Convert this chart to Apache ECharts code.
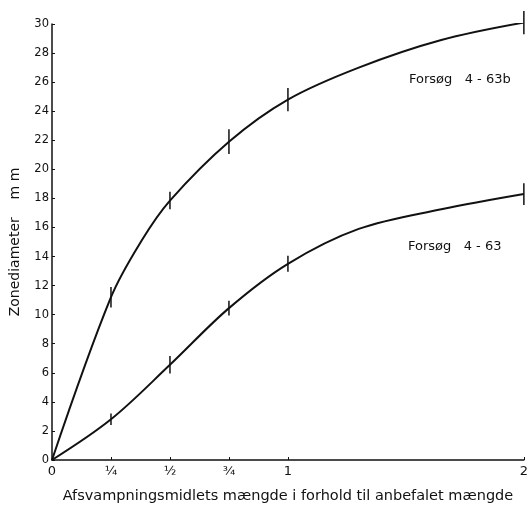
<!DOCTYPE html>
<html><head><meta charset="utf-8">
<script src="https://cdn.jsdelivr.net/npm/echarts@6/dist/echarts.min.js"></script>
<style>html,body{margin:0;padding:0;background:#fff}#c{width:531px;height:509px}</style>
</head><body><div id="c"></div>
<script>
// x positions (fraction of recommended amount)
const xTickValues = [0, 0.25, 0.5, 0.75, 1, 2];
const xTickLabels = ['0', '¼', '½', '¾', '1', '2'];
// Forsøg 4-63b (upper curve)
const upperX = [0, 0.25, 0.38, 0.5, 0.75, 1, 1.3, 1.65, 2];
const upperY = [0, 11.2, 15.1, 17.85, 21.9, 24.8, 27.0, 28.9, 30.1];
// Forsøg 4-63 (lower curve)
const lowerX = [0, 0.25, 0.5, 0.75, 1, 1.3, 1.65, 2];
const lowerY = [0, 2.8, 6.55, 10.45, 13.5, 15.9, 17.25, 18.3];
// measured points with error half-ranges
const upperPtX = [0.25, 0.5, 0.75, 1, 2];
const upperPtY = [11.2, 17.85, 21.9, 24.8, 30.1];
const upperErr = [0.7, 0.6, 0.85, 0.8, 0.8];
const lowerPtX = [0.25, 0.5, 0.75, 1, 2];
const lowerPtY = [2.8, 6.55, 10.45, 13.5, 18.3];
const lowerErr = [0.4, 0.6, 0.5, 0.55, 0.75];
const seriesNames = ['Forsøg   4 - 63b', 'Forsøg   4 - 63'];

const font = '"DejaVu Sans", "Liberation Sans", sans-serif';
const ink = '#111';
const zip = (a, b) => a.map((v, i) => [v, b[i]]);
const errData = (xs, ys, es) => xs.map((x, i) => [x, ys[i] - es[i], ys[i] + es[i]]);
const errSeries = (name, data) => ({
  type: 'custom', name, data, silent: true,
  renderItem: (params, api) => {
    const a = api.coord([api.value(0), api.value(1)]);
    const b = api.coord([api.value(0), api.value(2)]);
    return { type: 'line', shape: { x1: a[0], y1: a[1], x2: b[0], y2: b[1] },
      style: { stroke: ink, lineWidth: 1.5 } };
  }
});

const chart = echarts.init(document.getElementById('c'));
chart.setOption({
  animation: false,
  backgroundColor: '#fff',
  grid: { left: 49, right: 4, top: 24, bottom: 43 },
  xAxis: {
    type: 'value', min: 0, max: 2, interval: 0.25,
    name: 'Afsvampningsmidlets mængde i forhold til anbefalet mængde',
    nameLocation: 'middle', nameGap: 29,
    nameTextStyle: { fontFamily: font, fontSize: 14.5, color: ink },
    axisLine: { lineStyle: { color: ink, width: 1.5 } },
    axisTick: { inside: true, length: 3, customValues: xTickValues, lineStyle: { color: ink } },
    axisLabel: { customValues: xTickValues, formatter: v => xTickLabels[xTickValues.indexOf(v)] ?? '',
      fontFamily: font, fontSize: 13, color: ink, margin: 5 },
    splitLine: { show: false }
  },
  yAxis: {
    type: 'value', min: 0, max: 30, interval: 2,
    name: 'Zonediameter    m m', nameLocation: 'middle', nameGap: 30,
    nameTextStyle: { fontFamily: font, fontSize: 14, color: ink },
    axisLine: { show: true, lineStyle: { color: ink, width: 1.5 } },
    axisTick: { show: true, inside: true, length: 3, lineStyle: { color: ink } },
    axisLabel: { fontFamily: font, fontSize: 11.5, color: ink, margin: 3 },
    splitLine: { show: false }
  },
  series: [
    { type: 'line', name: seriesNames[0], data: zip(upperX, upperY), smooth: 0.35,
      showSymbol: false, lineStyle: { color: ink, width: 2 }, silent: true },
    { type: 'line', name: seriesNames[1], data: zip(lowerX, lowerY), smooth: 0.35,
      showSymbol: false, lineStyle: { color: ink, width: 2 }, silent: true },
    errSeries('err1', errData(upperPtX, upperPtY, upperErr)),
    errSeries('err2', errData(lowerPtX, lowerPtY, lowerErr))
  ],
  graphic: [
    { type: 'text', left: 409, top: 73, style: { text: seriesNames[0], font: '13px ' + font, fill: ink } },
    { type: 'text', left: 408, top: 240, style: { text: seriesNames[1], font: '13px ' + font, fill: ink } }
  ]
});
</script></body></html>
